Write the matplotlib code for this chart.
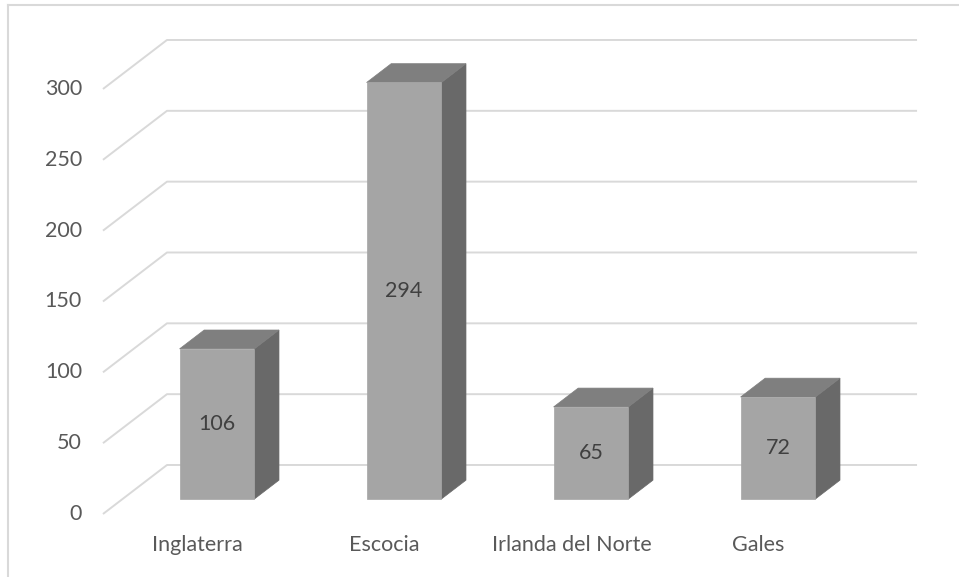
import matplotlib.pyplot as plt
from matplotlib.patches import Polygon

# Datos
paises = ["Inglaterra", "Escocia", "Irlanda del Norte", "Gales"]
valores = [106, 294, 65, 72]
ticks = [0, 50, 100, 150, 200, 250, 300]

# Colores de las caras de las barras
COL_FRENTE = "#a5a5a5"
COL_ARRIBA = "#7f7f7f"
COL_LADO = "#696969"
COL_GRID = "#d9d9d9"
COL_TEXTO = "#595959"

plt.rcParams['font.family'] = ['Lato', 'DejaVu Sans']

W, H = 959, 577
fig = plt.figure(figsize=(W / 100, H / 100), dpi=100)
ax = fig.add_axes([0, 0, 1, 1])

# escala: px por unidad en x (categoria) y en y (valor)
sx, sy = 187.0, 1.4167
x0_px, y0_px = 217.0, 78.0  # categoria 0, valor 0 en el plano frontal de las barras
ax.set_xlim(-x0_px / sx, (W - x0_px) / sx)
ax.set_ylim(-y0_px / sy, (H - y0_px) / sy)
ax.axis("off")

# profundidad oblicua (z de 0 a 1)
dx_u = 64 / sx
dy_u = 49 / sy
z_bar0, z_bar1 = 0.306, 0.69
ancho = 0.40


def proj(x, v, z):
    return (x + (z - z_bar0) * dx_u, v + (z - z_bar0) * dy_u)


# lineas de cuadricula (suelo lateral + pared del fondo)
x_izq, x_der = -0.505, 3.506
for t in ticks:
    pts = [proj(x_izq, t, 0), proj(x_izq, t, 1), proj(x_der, t, 1)]
    ax.plot([p[0] for p in pts], [p[1] for p in pts], color=COL_GRID,
            lw=1.4, solid_capstyle="butt", zorder=1)
    fx, fy = proj(x_izq, t, 0)
    ax.text(fx - 21 / sx, fy, str(t), ha="right", va="center",
            fontsize=15.5, color=COL_TEXTO)

# barras 3D
for i, v in enumerate(valores):
    l, r = i - ancho / 2, i + ancho / 2
    frente = [proj(l, 0, z_bar0), proj(r, 0, z_bar0), proj(r, v, z_bar0), proj(l, v, z_bar0)]
    lado = [proj(r, 0, z_bar0), proj(r, 0, z_bar1), proj(r, v, z_bar1), proj(r, v, z_bar0)]
    arriba = [proj(l, v, z_bar0), proj(r, v, z_bar0), proj(r, v, z_bar1), proj(l, v, z_bar1)]
    for poly, c in [(lado, COL_LADO), (arriba, COL_ARRIBA), (frente, COL_FRENTE)]:
        ax.add_patch(Polygon(poly, closed=True, facecolor=c, edgecolor=c,
                             lw=0.5, zorder=3))
    ax.text(i, v / 2, str(v), ha="center", va="center", fontsize=15.5,
            color="#404040", zorder=4)
    lx, _ = proj(i, 0, 0)
    ax.text(lx, -46 / sy, paises[i], ha="center", va="center",
            fontsize=15.5, color=COL_TEXTO)

# borde del area del grafico
fig.add_artist(plt.Line2D([8 / W, 8 / W], [0, 1 - 5 / H], color=COL_GRID,
                          lw=1.5, transform=fig.transFigure))
fig.add_artist(plt.Line2D([8 / W, 1], [1 - 5 / H, 1 - 5 / H], color=COL_GRID,
                          lw=1.5, transform=fig.transFigure))

fig.savefig("out.png", dpi=100, facecolor="white")
